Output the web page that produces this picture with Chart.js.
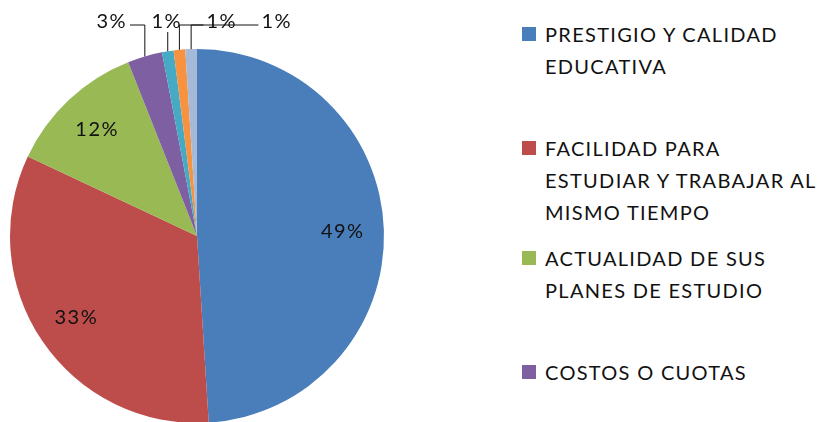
<!DOCTYPE html>
<html lang="es">
  <head>
    <meta charset="UTF-8" />
    <title>Pie chart</title>
    <style>
      body {
        margin: 0;
        padding: 0;
        background: #fff;
        width: 826px;
        height: 422px;
        overflow: hidden;
        position: relative;
        font-family: Lato, sans-serif;
      }

      .chart {
        position: absolute;
        left: 0;
        top: 0;
        width: 420px;
        height: 440px;
      }

      /* legend on the right */
      .legend {
        position: absolute;
        left: 522px;
        top: 0;
        width: 304px;
      }

      .legend-item {
        position: absolute;
        left: 0;
        display: flex;
        align-items: flex-start;
      }

      .legend-box {
        width: 14px;
        height: 14px;
        margin-right: 9px;
        flex: none;
      }

      .legend-text {
        font-size: 20px;
        line-height: 32px;
        letter-spacing: 1.3px;
        color: #111;
        margin-top: -9px;
        white-space: nowrap;
      }
    </style>
  </head>
  <body>
    <div class="chart"><canvas id="pie"></canvas></div>
    <div class="legend" id="legend"></div>

    <script src="https://cdn.jsdelivr.net/npm/chart.js"></script>
    <script>
      // data
      const categories = [
        ['PRESTIGIO Y CALIDAD', 'EDUCATIVA'],
        ['FACILIDAD PARA', 'ESTUDIAR Y TRABAJAR AL', 'MISMO TIEMPO'],
        ['ACTUALIDAD DE SUS', 'PLANES DE ESTUDIO'],
        ['COSTOS O CUOTAS'],
        [''],
        [''],
        [''],
      ];
      const values = [49, 33, 12, 3, 1, 1, 1];
      const colors = ['#4a7ebb', '#bc4d4a', '#98b954', '#7e5fa2', '#46aac5', '#f69240', '#a5b9d9'];

      // legend slots (marker top in px)
      const legendTops = [27, 141, 251, 365];

      const LABEL_FONT = '20px Lato';

      // percentage labels, inside for big slices and outside with leader lines for small ones
      const pctLabels = {
        id: 'pctLabels',
        afterDatasetsDraw(chart) {
          const ctx = chart.ctx;
          const meta = chart.getDatasetMeta(0);
          const outside = [];
          ctx.save();
          ctx.font = LABEL_FONT;
          ctx.letterSpacing = '1.5px';
          ctx.fillStyle = '#111';
          ctx.textBaseline = 'middle';

          meta.data.forEach((arc, i) => {
            const p = arc.getProps(['x', 'y', 'startAngle', 'endAngle', 'outerRadius'], true);
            const mid = (p.startAngle + p.endAngle) / 2;
            const text = values[i] + '%';
            if (values[i] >= 5) {
              const rr = p.outerRadius * 0.78;
              ctx.textAlign = 'center';
              ctx.fillText(text, p.x + Math.cos(mid) * rr, p.y + Math.sin(mid) * rr);
            } else {
              outside.push({
                text: text,
                ex: p.x + Math.cos(mid) * p.outerRadius,
                ey: p.y + Math.sin(mid) * p.outerRadius,
                right: p.x + Math.cos(mid) * (p.outerRadius + 28) - 10,
                ty: p.y - p.outerRadius - 27,
              });
            }
          });

          // spread the small labels so they don't overlap
          for (let i = 1; i < outside.length; i++) {
            outside[i].right = Math.max(outside[i].right, outside[i - 1].right + 55);
          }

          ctx.strokeStyle = '#111';
          ctx.lineWidth = 1;
          outside.forEach((o) => {
            const w = ctx.measureText(o.text).width;
            const left = o.right - w;
            ctx.textAlign = 'right';
            ctx.fillText(o.text, o.right, o.ty);

            ctx.beginPath();
            if (o.ex < left - 2) {
              ctx.moveTo(left - 3, o.ty + 3);
              ctx.lineTo(o.ex, o.ty + 3);
            } else if (o.ex > o.right + 2) {
              ctx.moveTo(o.right + 3, o.ty + 3);
              ctx.lineTo(o.ex, o.ty + 3);
            } else {
              ctx.moveTo(o.ex, o.ty + 10);
            }
            ctx.lineTo(o.ex, o.ey);
            ctx.stroke();
          });
          ctx.restore();
        },
      };

      new Chart(document.getElementById('pie'), {
        type: 'pie',
        data: {
          labels: categories.map((c) => c.join(' ')),
          datasets: [
            {
              data: values,
              backgroundColor: colors,
              borderWidth: 0,
            },
          ],
        },
        options: {
          responsive: true,
          maintainAspectRatio: false,
          animation: false,
          layout: {
            padding: { left: 10, top: 49, right: 36, bottom: 17 },
          },
          plugins: {
            legend: { display: false },
            tooltip: { enabled: false },
          },
        },
        plugins: [pctLabels],
      });

      // html legend built from the same arrays
      const legend = document.getElementById('legend');
      categories.forEach((lines, i) => {
        if (!lines[0] || i >= legendTops.length) return;
        const item = document.createElement('div');
        item.className = 'legend-item';
        item.style.top = legendTops[i] + 'px';
        const box = document.createElement('div');
        box.className = 'legend-box';
        box.style.background = colors[i];
        const txt = document.createElement('div');
        txt.className = 'legend-text';
        txt.innerHTML = lines.join('<br>');
        item.appendChild(box);
        item.appendChild(txt);
        legend.appendChild(item);
      });
    </script>
  </body>
</html>
